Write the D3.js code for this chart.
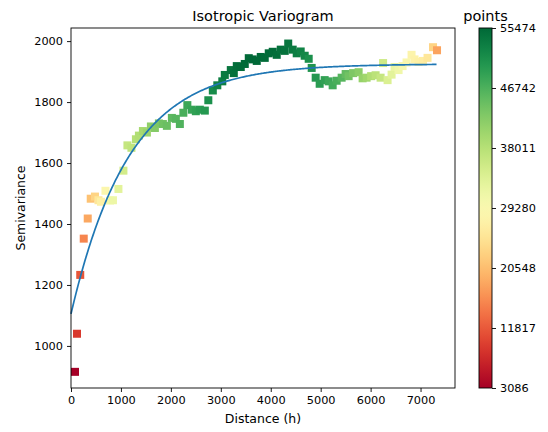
<!DOCTYPE html>
<html>
<head>
<meta charset="utf-8">
<script src="https://cdn.jsdelivr.net/npm/d3@7"></script>
<style>
  body { margin: 0; background: #fff; }
  text { font-family: "DejaVu Sans", sans-serif; fill: #000; }
</style>
</head>
<body>
<div id="chart"></div>
<script>
// lag distances, semivariance and number of point pairs per lag
const distances = [80, 120, 185, 255, 335, 395, 480, 550, 600, 690, 780, 840, 950, 1050, 1130, 1210,
  1300, 1360, 1440, 1520, 1600, 1680, 1760, 1840, 1920, 2020, 2100, 2180, 2250, 2330, 2420, 2500,
  2580, 2680, 2750, 2840, 2930, 3030, 3080, 3200, 3260, 3320, 3400, 3480, 3560, 3640, 3720, 3800,
  3880, 3960, 4040, 4120, 4200, 4280, 4350, 4440, 4520, 4600, 4680, 4760, 4820, 4900, 4980, 5080,
  5160, 5240, 5320, 5420, 5500, 5560, 5650, 5760, 5840, 5920, 6010, 6100, 6200, 6250, 6340, 6420,
  6480, 6560, 6640, 6720, 6820, 6880, 6960, 7050, 7140, 7250, 7330];
const semivariance = [915, 1040, 1233, 1352, 1418, 1483, 1490, 1478, 1473, 1509, 1477, 1478, 1515, 1575, 1658, 1650,
  1678, 1690, 1705, 1700, 1720, 1715, 1730, 1728, 1722, 1748, 1745, 1728, 1765, 1790, 1775, 1770,
  1775, 1772, 1806, 1838, 1855, 1868, 1889, 1905, 1895, 1918, 1915, 1925, 1944, 1940, 1935, 1948,
  1945, 1960, 1965, 1955, 1972, 1968, 1992, 1972, 1960, 1966, 1952, 1942, 1912, 1880, 1860, 1872,
  1868, 1855, 1870, 1880, 1892, 1885, 1895, 1898, 1878, 1880, 1885, 1888, 1880, 1928, 1872, 1890,
  1915, 1905, 1918, 1930, 1955, 1940, 1932, 1935, 1945, 1980, 1970];
const pointCounts = [3086, 9000, 11500, 15500, 18500, 21000, 23000, 25500, 27000, 28500, 30500, 31500, 33000, 35000, 36500, 37000,
  38000, 38500, 39500, 40500, 41500, 42500, 43000, 44000, 44500, 45500, 46000, 46500, 47000, 48000, 48500, 49000,
  49500, 50000, 51000, 51500, 52500, 53000, 53500, 54000, 54500, 54800, 55000, 55200, 55300, 55474, 55400, 55300,
  55200, 55100, 55000, 54800, 54500, 54300, 54000, 53500, 53000, 52500, 52000, 51000, 50500, 50000, 49500, 49000,
  48000, 47500, 47000, 46000, 45000, 44000, 43000, 42000, 41000, 40000, 38500, 37500, 36500, 35500, 34000, 33000,
  32000, 31000, 30000, 29000, 28000, 27500, 27000, 26500, 25500, 23000, 18000];

// fitted exponential model
const nugget = 1105, sill = 1925, range = 1166, modelMaxLag = 7330;

const xTicks = [0, 1000, 2000, 3000, 4000, 5000, 6000, 7000];
const yTicks = [1000, 1200, 1400, 1600, 1800, 2000];
const cbTicks = [3086, 11817, 20548, 29280, 38011, 46742, 55474];

const width = 548, height = 432;
const margin = { left: 71, top: 28, right: 93, bottom: 44 };
const plotW = width - margin.left - margin.right;
const plotH = height - margin.top - margin.bottom;
const tickFont = 11.3, labelFont = 12.5, titleFont = 14.5;

const svg = d3.select("#chart").append("svg")
  .attr("width", width).attr("height", height);

const x = d3.scaleLinear().domain([0, 7690]).range([margin.left, margin.left + plotW]);
const y = d3.scaleLinear().domain([862, 2043]).range([margin.top + plotH, margin.top]);
const color = d3.scaleSequential(d3.interpolateRdYlGn).domain([3086, 55474]);

const points = distances.map((d, i) => ({ h: d, g: semivariance[i], n: pointCounts[i] }));

// markers
const sz = 8;
svg.append("g").selectAll("rect")
  .data(points)
  .enter().append("rect")
  .attr("x", d => x(d.h) - sz / 2)
  .attr("y", d => y(d.g) - sz / 2)
  .attr("width", sz).attr("height", sz)
  .attr("fill", d => color(d.n));

// model curve
const lags = d3.range(0, modelMaxLag + 1, 20);
const line = d3.line()
  .x(h => x(h))
  .y(h => y(nugget + (sill - nugget) * (1 - Math.exp(-h / range))));
svg.append("path")
  .datum(lags)
  .attr("d", line)
  .attr("fill", "none")
  .attr("stroke", "#1f77b4")
  .attr("stroke-width", 1.7);

// axes
const xAxis = svg.append("g")
  .attr("transform", `translate(0,${margin.top + plotH})`)
  .call(d3.axisBottom(x).tickValues(xTicks).tickSize(4).tickPadding(4).tickFormat(d3.format("d")));
const yAxis = svg.append("g")
  .attr("transform", `translate(${margin.left},0)`)
  .call(d3.axisLeft(y).tickValues(yTicks).tickSize(4).tickPadding(4).tickFormat(d3.format("d")));
[xAxis, yAxis].forEach(a => {
  a.select(".domain").remove();
  a.selectAll("line").attr("stroke", "#000").attr("stroke-width", 0.9);
  a.selectAll("text").attr("font-size", tickFont).attr("font-family", "DejaVu Sans");
});

svg.append("rect")
  .attr("x", margin.left).attr("y", margin.top)
  .attr("width", plotW).attr("height", plotH)
  .attr("fill", "none").attr("stroke", "#000").attr("stroke-width", 0.9);

// labels
svg.append("text")
  .attr("x", margin.left + plotW / 2).attr("y", 21)
  .attr("text-anchor", "middle").attr("font-size", titleFont)
  .text("Isotropic Variogram");
svg.append("text")
  .attr("x", margin.left + plotW / 2).attr("y", 423)
  .attr("text-anchor", "middle").attr("font-size", labelFont)
  .text("Distance (h)");
svg.append("text")
  .attr("transform", `translate(24.5,${margin.top + plotH / 2}) rotate(-90)`)
  .attr("text-anchor", "middle").attr("font-size", labelFont)
  .text("Semivariance");

// colorbar
const cbX = 479, cbW = 13;
const cb = d3.scaleLinear().domain([3086, 55474]).range([margin.top + plotH, margin.top]);
const grad = svg.append("defs").append("linearGradient")
  .attr("id", "cbgrad").attr("x1", 0).attr("x2", 0).attr("y1", 1).attr("y2", 0);
d3.range(0, 1.0001, 0.02).forEach(t => {
  grad.append("stop").attr("offset", t).attr("stop-color", d3.interpolateRdYlGn(t));
});
svg.append("rect")
  .attr("x", cbX).attr("y", margin.top)
  .attr("width", cbW).attr("height", plotH)
  .attr("fill", "url(#cbgrad)")
  .attr("stroke", "#000").attr("stroke-width", 0.9);
const cbAxis = svg.append("g")
  .attr("transform", `translate(${cbX + cbW},0)`)
  .call(d3.axisRight(cb).tickValues(cbTicks).tickSize(4).tickPadding(4).tickFormat(d3.format("d")));
cbAxis.select(".domain").remove();
cbAxis.selectAll("line").attr("stroke", "#000").attr("stroke-width", 0.9);
cbAxis.selectAll("text").attr("font-size", tickFont).attr("font-family", "DejaVu Sans");
svg.append("text")
  .attr("x", cbX + cbW / 2).attr("y", 21)
  .attr("text-anchor", "middle").attr("font-size", titleFont)
  .text("points");
</script>
</body>
</html>
